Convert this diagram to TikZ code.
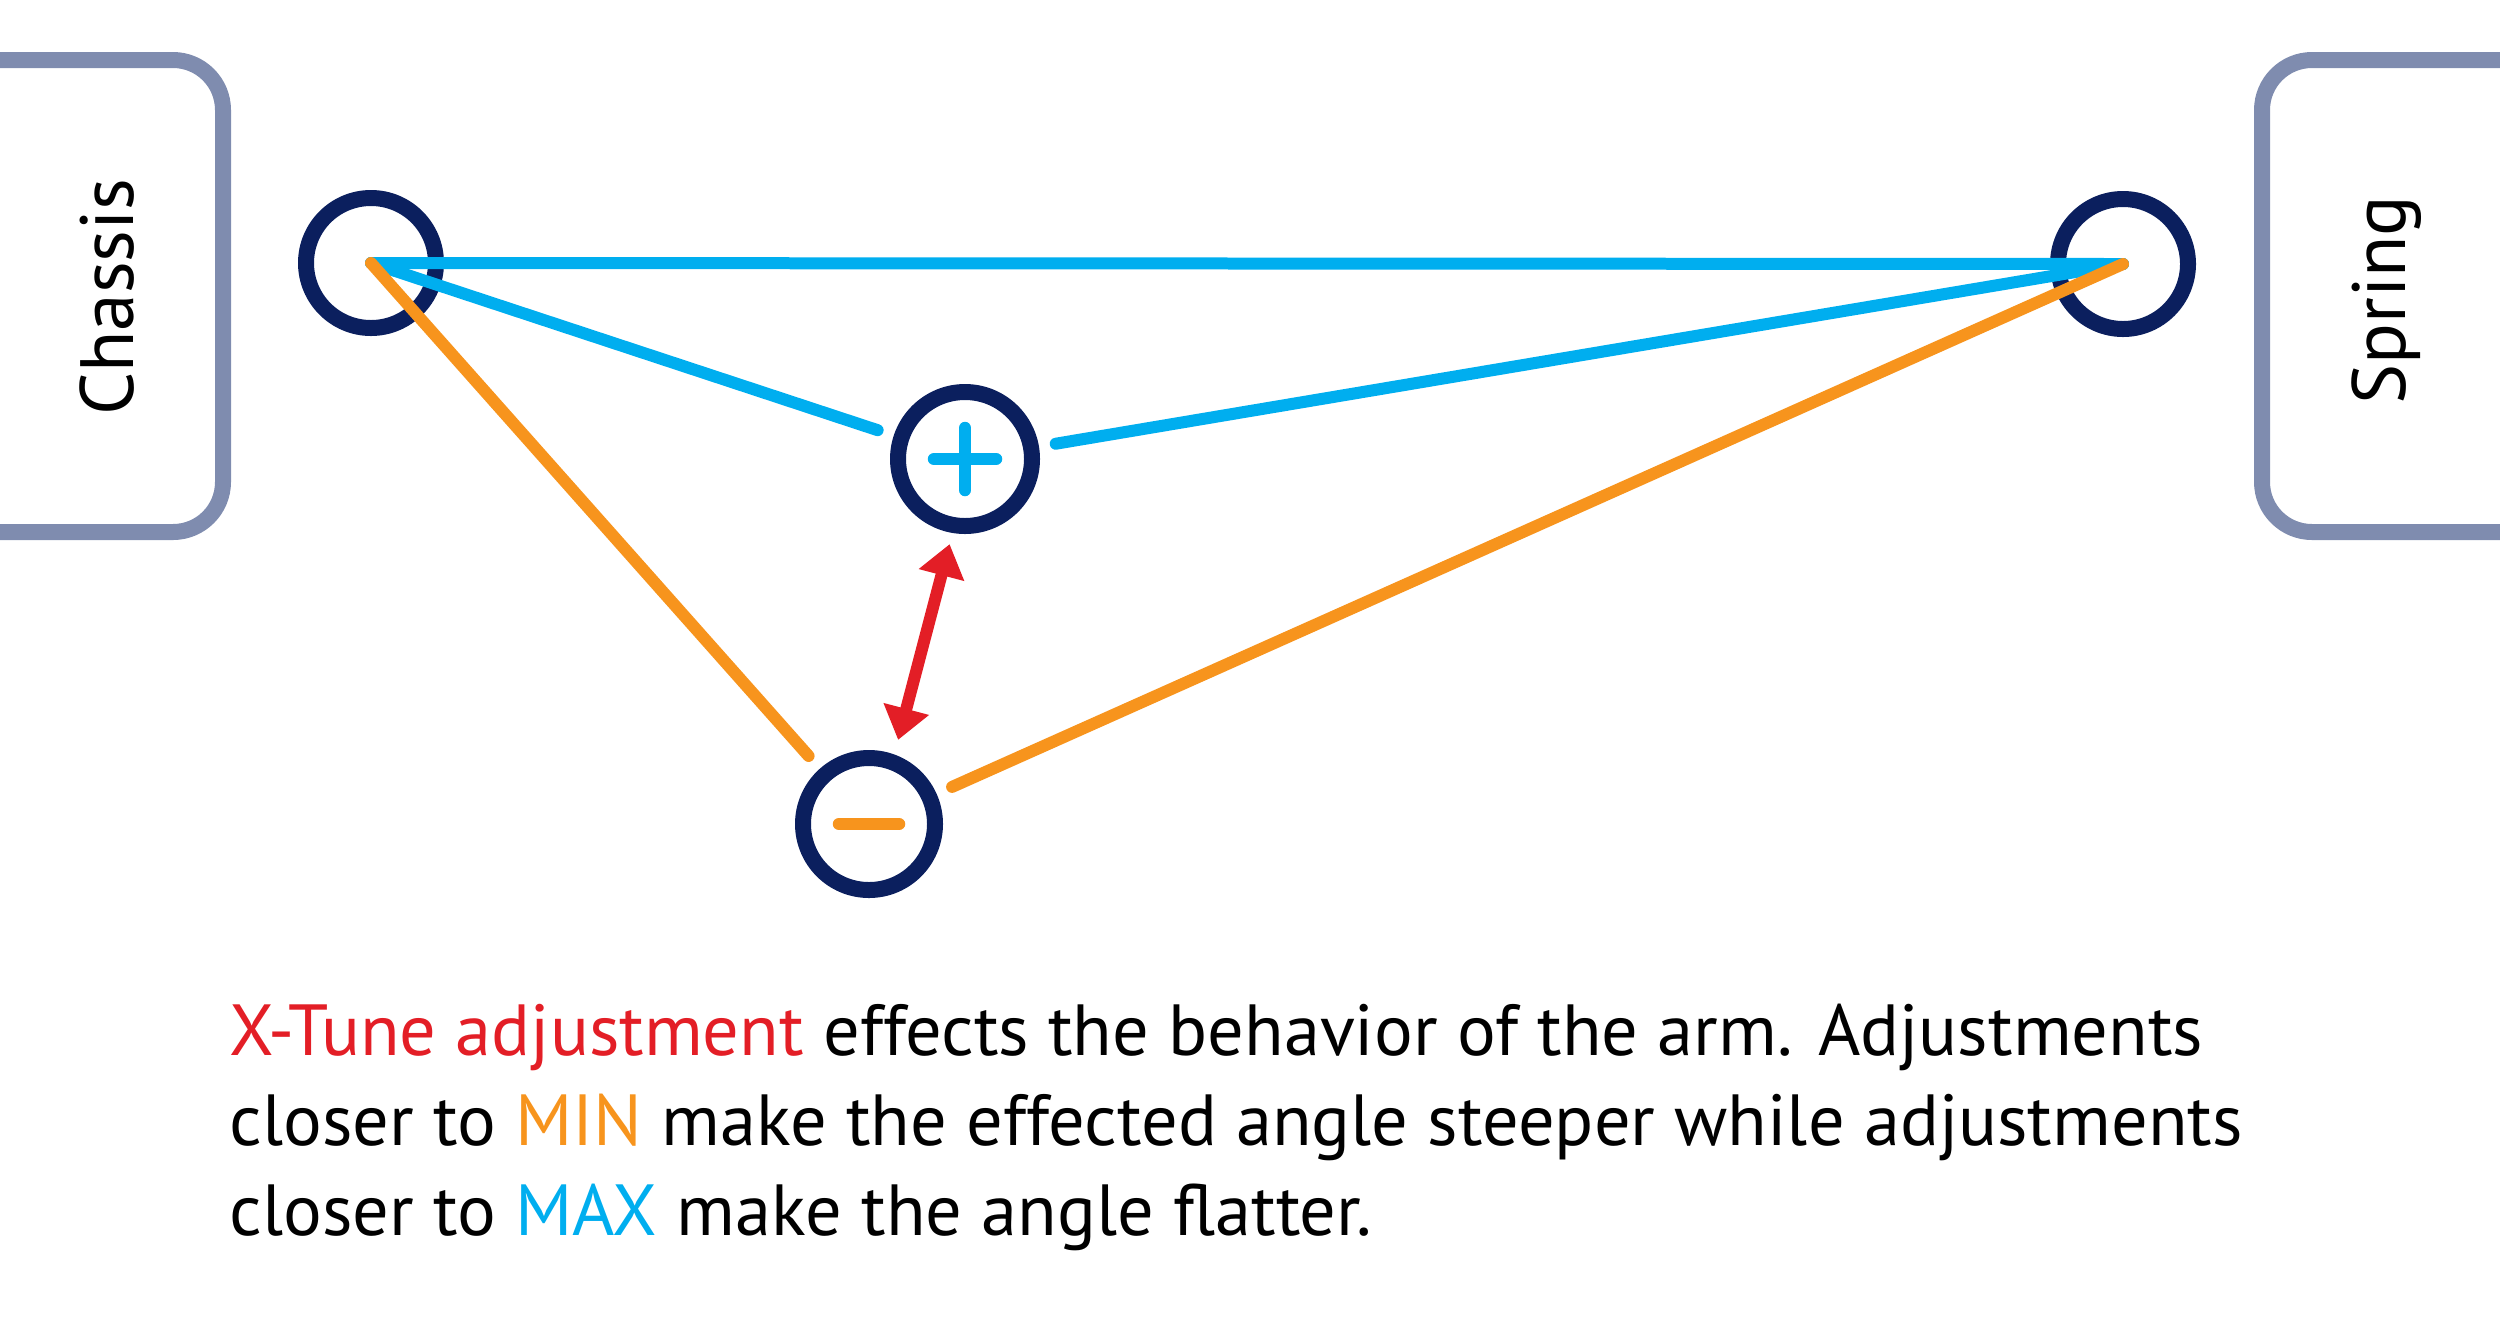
\documentclass[tikz,border=0pt]{standalone}
\usepackage{fontspec}
\setmainfont{PT Sans}
\usetikzlibrary{arrows.meta}
\definecolor{navy}{HTML}{0B1F5E}
\definecolor{skyb}{HTML}{00AEEF}
\definecolor{orng}{HTML}{F7941D}
\definecolor{redx}{HTML}{E31E26}
\definecolor{boxc}{HTML}{7F8CAF}
\tikzset{
  ring/.style={circle,draw=navy,line width=0.16cm,minimum size=1.30cm,inner sep=0pt},
  sidebox/.style={draw=boxc,line width=0.16cm,rounded corners=0.5cm},
  blueline/.style={draw=skyb,line width=0.12cm,line cap=round},
  orangeline/.style={draw=orng,line width=0.12cm,line cap=round},
  sign/.style={line width=0.125cm,line cap=round},
  sidelabel/.style={rotate=90,anchor=base,font=\fontsize{21.5}{24}\selectfont},
  bodytext/.style={anchor=base west,inner sep=0pt,font=\fontsize{20.6}{24}\selectfont}
}
\begin{document}
\begin{tikzpicture}[x=1cm,y=1cm]
\useasboundingbox (0,0) rectangle (25,-13.33);
% side boxes
\draw[sidebox] (-0.6,-0.60) -- (2.23,-0.60) -- (2.23,-5.32) -- (-0.6,-5.32);
\draw[sidebox] (25.6,-0.60) -- (22.62,-0.60) -- (22.62,-5.32) -- (25.6,-5.32);
\node[sidelabel] (chassis) at (1.33,-2.97) {Chassis};
\node[sidelabel] (spring) at (24.05,-3.00) {Spring};
% pivots
\node[ring] (L) at (3.71,-2.63) {};
\node[ring] (R) at (21.23,-2.64) {};
\node[ring,minimum size=1.34cm] (P) at (9.65,-4.59) {};
\node[ring,minimum size=1.32cm] (M) at (8.69,-8.24) {};
% connectors
\draw[blueline] (L.center) -- (R.center);
\draw[blueline,shorten >=0.17cm] (L.center) -- (P);
\draw[blueline,shorten <=0.17cm] (P) -- (R.center);
\draw[orangeline,shorten >=0.17cm] (L.center) -- (M);
\draw[orangeline,shorten <=0.17cm] (M) -- (R.center);
\draw[draw=redx,line width=0.12cm,{Triangle[width=0.45cm,length=0.32cm]}-{Triangle[width=0.45cm,length=0.32cm]},redx,shorten <=0.13cm,shorten >=0.13cm,transform canvas={xshift=0.07cm}] (P) -- (M);
% signs
\draw[sign,skyb] ([xshift=-0.31cm]P.center) -- ([xshift=0.31cm]P.center);
\draw[sign,skyb] ([yshift=-0.31cm]P.center) -- ([yshift=0.31cm]P.center);
\draw[sign,orng] ([xshift=-0.30cm]M.center) -- ([xshift=0.30cm]M.center);
% caption
\node[bodytext] (t1) at (2.29,-10.55) {\textcolor{redx}{X-Tune adjustment} effects the behavior of the arm. Adjustments};
\node[bodytext] (t2) at (2.29,-11.45) {closer to \textcolor{orng}{MIN} make the effected angle steeper while adjustments};
\node[bodytext] (t3) at (2.29,-12.35) {closer to \textcolor{skyb}{MAX} make the angle flatter.};
\end{tikzpicture}
\end{document}
